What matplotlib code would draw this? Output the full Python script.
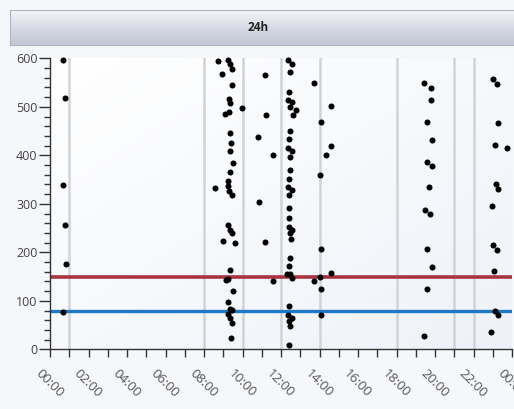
import numpy as np
import matplotlib
matplotlib.use("Agg")
import matplotlib.pyplot as plt
from matplotlib.colors import LinearSegmentedColormap
from matplotlib.ticker import MultipleLocator, FixedLocator
from matplotlib.transforms import ScaledTranslation

# ---- data (hour of day, value) ----
hours = [
    0.66, 0.80, 0.66, 0.80, 0.81, 0.66,
    8.71, 9.27, 9.36, 9.48, 8.94, 9.44, 9.29, 9.36, 9.96, 9.29, 9.10, 9.36, 9.40, 9.33,
    9.53, 9.36, 8.56, 9.27, 9.27, 9.31, 9.44, 9.27, 9.36, 9.44, 8.98, 9.60, 9.36, 9.13,
    9.27, 9.53, 9.27, 9.36, 9.44, 9.23, 9.36, 9.48, 9.40,
    11.17, 11.23, 10.83, 11.60, 10.88, 11.17, 11.60,
    12.35, 12.56, 12.47, 12.44, 12.38, 12.56, 12.47, 12.79, 12.61, 12.47, 12.40, 12.35,
    12.56, 12.47, 12.47, 12.42, 12.35, 12.56, 12.44, 12.44, 12.44, 12.42, 12.56, 12.47,
    12.51, 12.47, 12.42, 12.33, 12.47, 12.56, 12.42, 12.35, 12.56, 12.42, 12.47, 12.44,
    14.59, 14.07, 14.60, 14.34, 14.03, 13.74, 14.07, 14.60, 13.72, 14.03, 14.08, 14.08,
    19.45, 19.77, 19.79, 19.58, 19.87, 19.60, 19.87, 19.71, 19.47, 19.75, 19.56, 19.82,
    19.58, 19.41,
    22.99, 23.22, 23.25, 23.11, 23.75, 23.16, 23.28, 22.96, 23.01, 23.22, 23.06, 23.11,
    23.28, 22.93,
]
values = [
    597, 518, 338, 256, 176, 76,
    594, 597, 588, 578, 568, 545, 516, 507, 497, 490, 485, 447, 425, 408,
    384, 366, 333, 348, 337, 326, 318, 256, 247, 239, 223, 219, 164, 143,
    145, 121, 97, 83, 81, 73, 64, 55, 23,
    566, 483, 437, 400, 303, 221, 140,
    596, 588, 571, 531, 514, 509, 499, 493, 483, 450, 433, 416,
    409, 396, 370, 352, 334, 328, 319, 292, 271, 253, 247, 239,
    228, 188, 171, 155, 155, 148, 90, 71, 65, 59, 48, 8,
    501, 468, 419, 401, 359, 549, 206, 157, 140, 150, 124, 70,
    550, 539, 513, 468, 432, 386, 377, 334, 288, 279, 207, 170,
    125, 28,
    557, 547, 467, 421, 416, 341, 331, 296, 216, 205, 161, 79,
    70, 35,
]
upper_limit = 150
lower_limit = 80
marker_hours = [1, 8, 10, 12, 14, 18, 21, 22]
tick_hours = list(range(0, 25, 2))
tick_labels = ["%02d:00" % (h % 24) for h in tick_hours]
title = "24h"

W, H = 514, 409
fig = plt.figure(figsize=(W / 100, H / 100), dpi=100)
fig.patch.set_facecolor("#f6f7fa")

# title bar
tax = fig.add_axes([10 / W, 1 - 45 / H, 504 / W, 35 / H])
bar_cmap = LinearSegmentedColormap.from_list("bar", ["#f4f5f9", "#d8dbe5", "#c2c6d5"])
tax.imshow(np.linspace(0, 1, 64).reshape(-1, 1), aspect="auto", cmap=bar_cmap,
           extent=[0, 1, 0, 1], origin="upper")
tax.set_xlim(0, 1)
tax.set_ylim(0, 1)
tax.set_xticks([])
tax.set_yticks([])
for s in tax.spines.values():
    s.set_color("#b0b4c2")
    s.set_linewidth(0.8)
tax.spines["right"].set_visible(False)
tax.text(0.492, 0.5, title, ha="center", va="center", fontsize=8.5, fontweight="bold",
         color="#222222", family="Open Sans")

# main axes
ax = fig.add_axes([50 / W, 1 - 349.3 / H, 462 / W, (349.3 - 58.3) / H])
bg_cmap = LinearSegmentedColormap.from_list("bg", ["#ffffff", "#eef2f8"])
xx = np.linspace(0, 1, 64)
grad = (xx[None, :] * 0.5 + xx[:, None] * 0.5)
ax.imshow(grad, aspect="auto", cmap=bg_cmap, extent=[0, 24, 0, 600],
          origin="upper", zorder=0)
ax.set_xlim(0, 24)
ax.set_ylim(0, 600)

for h in marker_hours:
    ax.axvline(h, color="#d2d3d8", lw=1.8, zorder=1)

ax.axhline(upper_limit, color="#a83442", lw=2.6, zorder=2)
ax.axhline(lower_limit, color="#1f78c4", lw=2.4, zorder=2)

ax.scatter(hours, values, s=19, color="black", zorder=3, clip_on=False, linewidths=0)

for s in ["top", "right"]:
    ax.spines[s].set_visible(False)
for s in ["left", "bottom"]:
    ax.spines[s].set_color("#333333")
    ax.spines[s].set_linewidth(1.0)

ax.yaxis.set_major_locator(MultipleLocator(100))
ax.yaxis.set_minor_locator(MultipleLocator(20))
ax.tick_params(axis="y", which="major", length=8, width=1, color="#333333",
               labelsize=9, labelcolor="#444444", pad=1)
ax.tick_params(axis="y", which="minor", length=4, width=1, color="#333333")

ax.xaxis.set_major_locator(FixedLocator(tick_hours))
ax.xaxis.set_minor_locator(MultipleLocator(1))
ax.set_xticklabels(tick_labels)
ax.tick_params(axis="x", which="both", length=6, width=1, color="#333333",
               labelsize=9.5, labelcolor="#555555", pad=4)
offset = ScaledTranslation(-8 / 100, -4 / 100, fig.dpi_scale_trans)
for lab in ax.get_xticklabels():
    lab.set_rotation(-45)
    lab.set_ha("left")
    lab.set_va("top")
    lab.set_rotation_mode("anchor")
    lab.set_family("Open Sans")
    lab.set_transform(lab.get_transform() + offset)
for lab in ax.get_yticklabels():
    lab.set_family("Open Sans")

fig.savefig("out.png", dpi=100, facecolor=fig.get_facecolor())
